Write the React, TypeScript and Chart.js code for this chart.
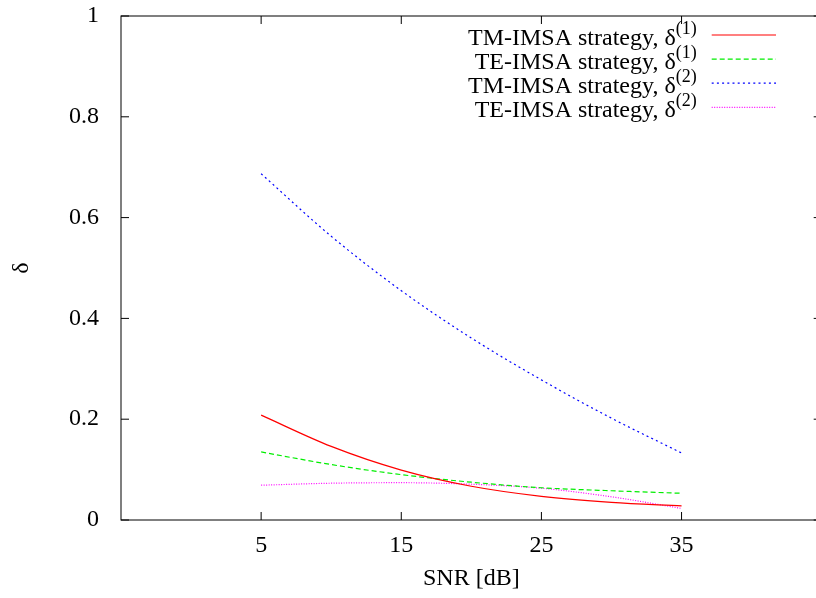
import React, { useEffect, useRef } from "react";
import { Chart, registerables } from "chart.js";

Chart.register(...registerables);

const snr = [5, 10, 15, 20, 25, 30, 35];
const tmDelta1 = [0.208, 0.146, 0.099, 0.067, 0.047, 0.035, 0.028];
const teDelta1 = [0.135, 0.11, 0.09, 0.075, 0.064, 0.058, 0.053];
const tmDelta2 = [0.687, 0.563, 0.455, 0.361, 0.278, 0.202, 0.133];
const teDelta2 = [0.069, 0.073, 0.074, 0.071, 0.063, 0.046, 0.023];

const xTicks = [5, 15, 25, 35];
const yTicks = [0, 0.2, 0.4, 0.6, 0.8, 1];
const yTickLabels = ["0", "0.2", "0.4", "0.6", "0.8", "1"];

const seriesNames = [
  "TM-IMSA strategy, δ",
  "TE-IMSA strategy, δ",
  "TM-IMSA strategy, δ",
  "TE-IMSA strategy, δ",
];
const seriesSups = ["(1)", "(1)", "(2)", "(2)"];
const colors = ["#ff0000", "#00ee00", "#0000ff", "#ff00ff"];
const dashes: number[][] = [[], [5, 3], [2, 3.2], [1, 1.5]];

const xTitle = "SNR [dB]";
const yTitle = "δ";

const family = "'Liberation Serif', 'Times New Roman', serif";

const framePlugin = {
  id: "gnuFrame",
  afterDatasetsDraw(chart: any) {
    const { ctx, chartArea: a, scales } = chart;
    ctx.save();
    ctx.strokeStyle = "#000";
    ctx.lineWidth = 1;
    ctx.setLineDash([]);
    ctx.strokeRect(a.left, a.top, a.right - a.left, a.bottom - a.top);
    ctx.beginPath();
    for (const v of xTicks) {
      const px = scales.x.getPixelForValue(v);
      ctx.moveTo(px, a.bottom);
      ctx.lineTo(px, a.bottom - 8);
      ctx.moveTo(px, a.top);
      ctx.lineTo(px, a.top + 8);
    }
    for (const v of yTicks) {
      const py = scales.y.getPixelForValue(v);
      ctx.moveTo(a.left, py);
      ctx.lineTo(a.left + 8, py);
      ctx.moveTo(a.right, py);
      ctx.lineTo(a.right - 8, py);
    }
    ctx.stroke();

    // legend
    const textRight = a.right - 125;
    const sampleL = a.right - 110;
    const sampleR = a.right - 45.7;
    ctx.fillStyle = "#000";
    ctx.textAlign = "left";
    ctx.textBaseline = "alphabetic";
    for (let i = 0; i < seriesNames.length; i++) {
      const y = a.top + 19 + i * 24.1;
      ctx.font = `24px ${family}`;
      const mainW = ctx.measureText(seriesNames[i]).width;
      ctx.font = `18px ${family}`;
      const supW = ctx.measureText(seriesSups[i]).width;
      const x0 = textRight - supW - mainW;
      ctx.font = `24px ${family}`;
      ctx.fillText(seriesNames[i], x0, y + 10);
      ctx.font = `18px ${family}`;
      ctx.fillText(seriesSups[i], x0 + mainW, y - 1);
      ctx.beginPath();
      ctx.lineWidth = 1.2;
      ctx.strokeStyle = colors[i];
      ctx.setLineDash(dashes[i]);
      ctx.moveTo(sampleL, y);
      ctx.lineTo(sampleR, y);
      ctx.stroke();
    }
    ctx.restore();
  },
};

export default function App() {
  const ref = useRef<HTMLCanvasElement>(null);
  useEffect(() => {
    const series = [tmDelta1, teDelta1, tmDelta2, teDelta2];
    const font = { family, size: 24 };
    const chart = new Chart(ref.current as HTMLCanvasElement, {
      type: "line",
      data: {
        datasets: series.map((s, i) => ({
          label: seriesNames[i] + seriesSups[i],
          data: snr.map((x, j) => ({ x, y: s[j] })),
          borderColor: colors[i],
          borderDash: dashes[i],
          borderWidth: 1.2,
          pointRadius: 0,
          fill: false,
          cubicInterpolationMode: "monotone" as const,
        })),
      },
      options: {
        responsive: false,
        animation: false,
        devicePixelRatio: 1,
        layout: { padding: { left: 0, top: 16, right: 8.3, bottom: 0 } },
        plugins: { legend: { display: false }, tooltip: { enabled: false } },
        scales: {
          x: {
            type: "linear",
            min: -5,
            max: 45,
            grid: { display: false },
            border: { display: false },
            afterBuildTicks: (s: any) => {
              s.ticks = xTicks.map((v) => ({ value: v }));
            },
            afterFit: (s: any) => {
              s.height = 78;
              s.paddingLeft = 0;
              s.paddingRight = 0;
            },
            ticks: {
              font,
              color: "#000",
              padding: 3,
              maxRotation: 0,
              autoSkip: false,
              callback: (v: any) => String(v),
            },
            title: {
              display: true,
              text: xTitle,
              font,
              color: "#000",
              padding: { top: 0, bottom: 4.5 },
            },
          },
          y: {
            type: "linear",
            min: 0,
            max: 1,
            grid: { display: false },
            border: { display: false },
            afterBuildTicks: (s: any) => {
              s.ticks = yTicks.map((v) => ({ value: v }));
            },
            afterFit: (s: any) => {
              s.width = 121;
              s.paddingTop = 0;
              s.paddingBottom = 0;
            },
            ticks: {
              font,
              color: "#000",
              padding: 14,
              autoSkip: false,
              callback: (_v: any, i: number) => yTickLabels[i],
            },
            title: {
              display: true,
              text: yTitle,
              font,
              color: "#000",
              padding: { top: 7.6, bottom: 0 },
            },
          },
        },
      },
      plugins: [framePlugin],
    });
    return () => chart.destroy();
  }, []);

  return (
    <div
      style={{
        position: "fixed",
        left: 0,
        top: 0,
        width: 816,
        height: 598,
        overflow: "hidden",
        background: "#fff",
      }}
    >
      <canvas ref={ref} width={830} height={598} style={{ display: "block" }} />
    </div>
  );
}
